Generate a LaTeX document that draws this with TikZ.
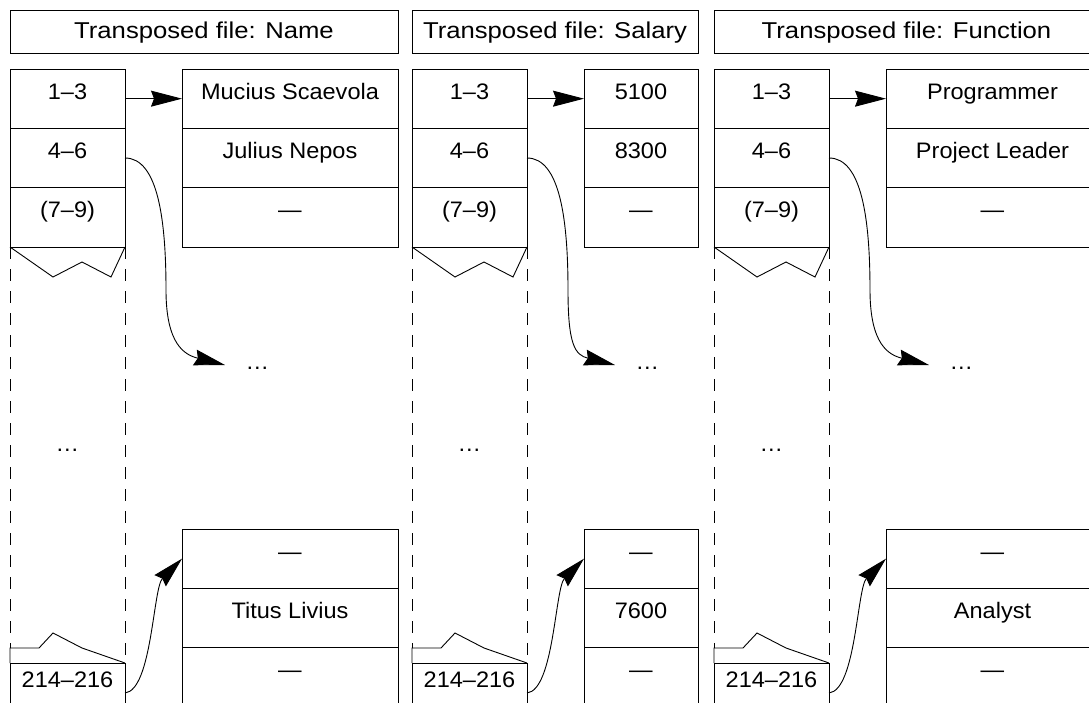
\documentclass[tikz,border=0pt]{standalone}
\usepackage{fontspec}
\setmainfont{Liberation Sans}
\usetikzlibrary{arrows.meta}
\newcommand\sx[1]{\scalebox{1.05}[1]{#1}}
\newcommand\hx[1]{\scalebox{1.12}[1]{#1}}
\begin{document}
\begin{tikzpicture}[x=1bp,y=-1bp,line width=0.9bp,
  every node/.style={inner sep=0pt,outer sep=0pt},
  cell/.style={draw,rectangle,minimum height=59.33bp,text height=8bp,text depth=7bp,font=\fontsize{22.5}{26}\selectfont},
  idx/.style={cell,minimum width=115bp},
  hdr/.style={draw,rectangle,minimum height=43bp,text height=15bp,text depth=0bp,font=\fontsize{23}{27}\selectfont},
  txt/.style={font=\fontsize{22.5}{26}\selectfont},
  link/.style={-{Stealth[length=31bp,width=16bp,inset=3bp]}},
  tear/.style={dash pattern=on 12bp off 10bp}]
\useasboundingbox (0,0) rectangle (1089,703);
\foreach \ox/\R/\p/\h/\da/\db/\eb/\s in {0/398/a/Name/Mucius Scaevola/Julius Nepos/Titus Livius/0,402/698/b/Salary/5100/8300/7600/-12,704/1099/c/Function/Programmer/Project Leader/Analyst/0}{
  \pgfmathsetmacro\dw{\R-\ox-182}
  \pgfmathsetmacro\dc{(\R+\ox+182)/2}
  \pgfmathsetmacro\hw{\R-\ox-10}
  \pgfmathsetmacro\hc{(\R+\ox+10)/2}
  \pgfmathsetmacro\ic{\ox+67.5}
  % header
  \node[hdr,minimum width=\hw bp] (\p h) at (\hc,31.5) {\hx{Transposed file: \h}};
  % index cells
  \node[idx] (\p i1) at (\ic,98.67) {\sx{1–3}};
  \node[idx] (\p i2) at (\ic,158) {\sx{4–6}};
  \node[idx] (\p i3) at (\ic,217.33) {\sx{(7–9)}};
  \node[idx,minimum height=60bp,text height=0bp,text depth=12bp] (\p ib) at (\ic,693) {\sx{214–216}};
  % torn edges and dashed continuation
  \draw (\ox+10,247) -- (\ox+53,277) -- (\ox+82,262) -- (\ox+111,277) -- (\ox+125,247);
  \draw[tear] (\ox+10,247) -- (\ox+10,648);
  \draw[tear] (\ox+125,247) -- (\ox+125,663);
  \draw (\ox+10,663) -- (\ox+10,648) -- (\ox+39,648) -- (\ox+53,633) -- (\ox+82,648) -- (\ox+125,663);
  \node[txt,anchor=base] (\p m) at (\ic,451) {\sx{…}};
  % data cells
  \node[cell,minimum width=\dw bp] (\p d1) at (\dc,98.67) {\sx{\da}};
  \node[cell,minimum width=\dw bp] (\p d2) at (\dc,158) {\sx{\db}};
  \node[cell,minimum width=\dw bp] (\p d3) at (\dc,217.33) {\sx{—}};
  \node[cell,minimum width=\dw bp] (\p e1) at (\dc,558.67) {\sx{—}};
  \node[cell,minimum width=\dw bp] (\p e2) at (\dc,618) {\sx{\eb}};
  \node[cell,minimum width=\dw bp] (\p e3) at (\dc,677.33) {\sx{—}};
  \node[txt,anchor=base] (\p dd) at (\ox+\s+257.5,369) {\sx{…}};
  \coordinate (\p tip) at (\ox+\s+225,365);
  % connectors
  \draw[link] (\p i1.east) -- (\p d1.west);
  \draw[link] (\p i2.east) .. controls (\ox+158,158) and (\ox+166,220) .. (\ox+166,290)
     .. controls (\ox+166,345) and (\ox+\s+185,355) .. (\p tip);
  \draw[link] (\p ib.east) .. controls (\ox+152,690) and (\ox+153,588) .. (\p e1.west);
}
\end{tikzpicture}
\end{document}
